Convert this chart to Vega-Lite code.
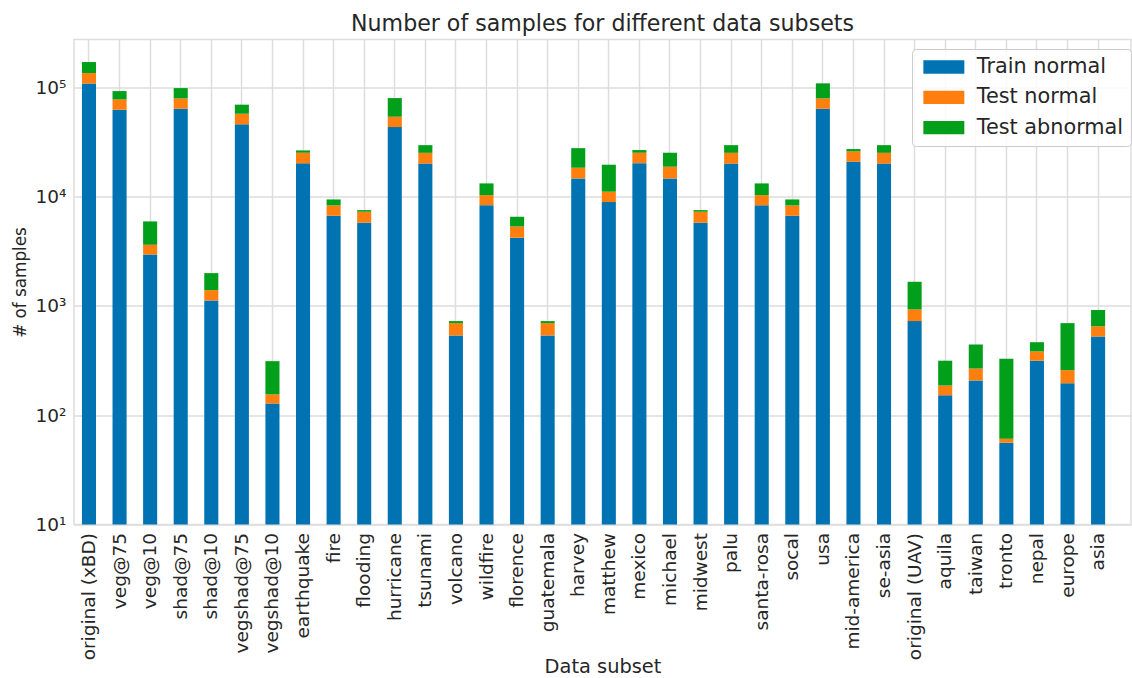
{
  "$schema": "https://vega.github.io/schema/vega-lite/v6.json",
  "width": 1057,
  "height": 485,
  "autosize": {"type": "none"},
  "padding": {"left": 74, "top": 39.5, "right": 1, "bottom": 153.5},
  "title": {
    "text": "Number of samples for different data subsets",
    "fontSize": 22.1,
    "font": "DejaVu Sans",
    "fontWeight": "normal",
    "color": "#262626",
    "offset": 3,
    "anchor": "middle"
  },
  "data": {
    "values": [
      {"subset": "original (xBD)", "train": 108000, "test_normal": 26600, "test_abnormal": 35200},
      {"subset": "veg@75", "train": 62200, "test_normal": 15100, "test_abnormal": 14800},
      {"subset": "veg@10", "train": 2950, "test_normal": 670, "test_abnormal": 2300},
      {"subset": "shad@75", "train": 63500, "test_normal": 15500, "test_abnormal": 19100},
      {"subset": "shad@10", "train": 1120, "test_normal": 272, "test_abnormal": 600},
      {"subset": "vegshad@75", "train": 45700, "test_normal": 11500, "test_abnormal": 12000},
      {"subset": "vegshad@10", "train": 128, "test_normal": 27, "test_abnormal": 157},
      {"subset": "earthquake", "train": 20100, "test_normal": 5050, "test_abnormal": 1250},
      {"subset": "fire", "train": 6670, "test_normal": 1620, "test_abnormal": 1110},
      {"subset": "flooding", "train": 5760, "test_normal": 1500, "test_abnormal": 250},
      {"subset": "hurricane", "train": 43150, "test_normal": 10550, "test_abnormal": 25800},
      {"subset": "tsunami", "train": 20000, "test_normal": 5100, "test_abnormal": 4400},
      {"subset": "volcano", "train": 536, "test_normal": 159, "test_abnormal": 30},
      {"subset": "wildfire", "train": 8340, "test_normal": 1960, "test_abnormal": 2880},
      {"subset": "florence", "train": 4200, "test_normal": 1125, "test_abnormal": 1205},
      {"subset": "guatemala", "train": 536, "test_normal": 159, "test_abnormal": 30},
      {"subset": "harvey", "train": 14650, "test_normal": 3690, "test_abnormal": 9360},
      {"subset": "matthew", "train": 8890, "test_normal": 2180, "test_abnormal": 8470},
      {"subset": "mexico", "train": 20200, "test_normal": 4950, "test_abnormal": 1450},
      {"subset": "michael", "train": 14650, "test_normal": 4090, "test_abnormal": 6410},
      {"subset": "midwest", "train": 5760, "test_normal": 1500, "test_abnormal": 250},
      {"subset": "palu", "train": 20000, "test_normal": 5100, "test_abnormal": 4400},
      {"subset": "santa-rosa", "train": 8300, "test_normal": 2000, "test_abnormal": 2880},
      {"subset": "socal", "train": 6670, "test_normal": 1620, "test_abnormal": 1110},
      {"subset": "usa", "train": 63500, "test_normal": 15500, "test_abnormal": 29400},
      {"subset": "mid-america", "train": 20800, "test_normal": 5070, "test_abnormal": 1290},
      {"subset": "se-asia", "train": 20000, "test_normal": 5100, "test_abnormal": 4400},
      {"subset": "original (UAV)", "train": 725, "test_normal": 202, "test_abnormal": 733},
      {"subset": "aquila", "train": 152, "test_normal": 35, "test_abnormal": 128},
      {"subset": "taiwan", "train": 208, "test_normal": 59, "test_abnormal": 176},
      {"subset": "tronto", "train": 56, "test_normal": 5, "test_abnormal": 267},
      {"subset": "nepal", "train": 315, "test_normal": 68, "test_abnormal": 82},
      {"subset": "europe", "train": 196, "test_normal": 62, "test_abnormal": 437},
      {"subset": "asia", "train": 525, "test_normal": 127, "test_abnormal": 262}
    ]
  },
  "transform": [
    {"fold": ["train", "test_normal", "test_abnormal"], "as": ["category", "count"]},
    {"stack": "count", "groupby": ["subset"], "sort": [{"field": "category", "order": "descending"}], "as": ["y0", "y1"]}
  ],
  "mark": {"type": "bar"},
  "encoding": {
    "x": {
      "field": "subset",
      "type": "nominal",
      "sort": null,
      "scale": {"paddingInner": 0.54, "paddingOuter": 0.553, "align": 0.235},
      "axis": {
        "title": "Data subset",
        "labelAngle": -90,
        "labelFontSize": 18.5,
        "labelFont": "DejaVu Sans",
        "labelColor": "#262626",
        "labelPadding": 8,
        "ticks": false,
        "domain": false,
        "grid": true,
        "gridColor": "#dddddd",
        "gridWidth": 1.5,
        "bandPosition": 0.5,
        "titleFontSize": 19.4,
        "titleFont": "DejaVu Sans",
        "titleFontWeight": "normal",
        "titleColor": "#262626",
        "titlePadding": -2
      }
    },
    "y": {
      "field": "y1",
      "type": "quantitative",
      "scale": {"type": "log", "domain": [10, 273000], "clamp": true, "nice": false},
      "axis": {
        "title": "# of samples",
        "values": [10, 100, 1000, 10000, 100000],
        "labelExpr": "'10' + (datum.value < 50 ? '¹' : datum.value < 500 ? '²' : datum.value < 5000 ? '³' : datum.value < 50000 ? '⁴' : '⁵')",
        "labelFontSize": 18.5,
        "labelFont": "DejaVu Sans",
        "labelColor": "#262626",
        "labelPadding": 8,
        "ticks": false,
        "domain": false,
        "grid": true,
        "gridColor": "#dddddd",
        "gridWidth": 1.5,
        "titleFontSize": 16.8,
        "titleFont": "DejaVu Sans",
        "titleFontWeight": "normal",
        "titleColor": "#262626",
        "titlePadding": 6
      }
    },
    "y2": {"field": "y0"},
    "color": {
      "field": "category",
      "type": "nominal",
      "scale": {
        "domain": ["train", "test_normal", "test_abnormal"],
        "range": ["#0173b2", "#ff7f0e", "#029f1b"]
      },
      "legend": {
        "orient": "none",
        "legendX": 838,
        "legendY": 9.5,
        "title": null,
        "symbolType": "M-3.08,-1H3.08V1H-3.08Z",
        "symbolSize": 177,
        "symbolOffset": 13.85,
        "symbolStrokeWidth": 0,
        "labelFontSize": 20.8,
        "labelFont": "DejaVu Sans",
        "labelColor": "#262626",
        "labelOffset": 22.5,
        "rowPadding": 8.3,
        "padding": 7.6,
        "strokeColor": "#cccccc",
        "fillColor": "rgba(255,255,255,0.85)",
        "cornerRadius": 4,
        "labelExpr": "datum.value == 'train' ? 'Train normal' : datum.value == 'test_normal' ? 'Test normal' : 'Test abnormal'"
      }
    }
  },
  "config": {
    "font": "DejaVu Sans",
    "view": {"stroke": "#dddddd", "strokeWidth": 1.5},
    "background": "white"
  }
}
